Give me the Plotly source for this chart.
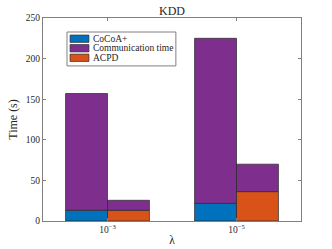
import plotly.graph_objects as go

categories = ["10<sup>−3</sup>", "10<sup>−5</sup>"]
cocoa_compute = [13.2, 21.8]
cocoa_comm = [143.8, 203.2]
acpd_compute = [13.2, 36.2]
acpd_comm = [12.3, 33.8]
legend_names = ["CoCoA+", "Communication time", "ACPD"]

BLUE = "#0072BD"
PURPLE = "#7E2F8E"
ORANGE = "#D95319"
EDGE = dict(color="#262626", width=0.7)
FONT = "Liberation Serif, DejaVu Serif, serif"
TXT = "#262626"

fig = go.Figure()
fig.add_trace(go.Bar(x=categories, y=cocoa_compute, name=legend_names[0], offsetgroup="a",
                     marker=dict(color=BLUE, line=EDGE)))
fig.add_trace(go.Bar(x=categories, y=cocoa_comm, base=cocoa_compute, name=legend_names[1],
                     offsetgroup="a", marker=dict(color=PURPLE, line=EDGE)))
fig.add_trace(go.Bar(x=categories, y=acpd_compute, name=legend_names[2], offsetgroup="b",
                     marker=dict(color=ORANGE, line=EDGE)))
fig.add_trace(go.Bar(x=categories, y=acpd_comm, base=acpd_compute, name=legend_names[1],
                     offsetgroup="b", marker=dict(color=PURPLE, line=EDGE)))

axis_common = dict(showline=True, linecolor="#808080", linewidth=1, mirror="ticks",
                   ticks="inside", ticklen=3, tickcolor="#808080", showgrid=False,
                   zeroline=False, automargin=False,
                   tickfont=dict(family=FONT, size=9.5, color=TXT))

# compact MATLAB-style legend drawn in paper coordinates
shapes = [dict(type="rect", xref="paper", yref="paper", x0=0.093, x1=0.515, y0=0.764, y1=0.931,
               line=dict(color="#808080", width=1), fillcolor="white", layer="above")]
annotations = []
legend_colors = [BLUE, PURPLE, ORANGE]
row_y = [0.898, 0.851, 0.804]
for name, col, yc in zip(legend_names, legend_colors, row_y):
    shapes.append(dict(type="rect", xref="paper", yref="paper", x0=0.105, x1=0.178,
                       y0=yc - 0.018, y1=yc + 0.018, fillcolor=col,
                       line=dict(color="#262626", width=0.7), layer="above"))
    annotations.append(dict(text=name, xref="paper", yref="paper", x=0.186, y=yc,
                            xanchor="left", yanchor="middle", showarrow=False,
                            font=dict(family=FONT, size=9.5, color=TXT)))

fig.update_layout(
    width=332, height=249,
    margin=dict(l=43, r=31, t=18, b=28, autoexpand=False),
    paper_bgcolor="white", plot_bgcolor="white",
    barmode="group", bargap=0.35, bargroupgap=0,
    title=dict(text="KDD", x=0.518, xanchor="center", y=0.955, yanchor="middle",
               font=dict(family=FONT, size=12, color=TXT), automargin=False),
    font=dict(family=FONT, color=TXT),
    showlegend=False,
    shapes=shapes, annotations=annotations,
)
fig.update_xaxes(**axis_common, title=dict(text="λ", standoff=1,
                 font=dict(family=FONT, size=11.5, color=TXT)))
fig.update_yaxes(**axis_common, range=[0, 250], tickvals=[0, 50, 100, 150, 200, 250],
                 title=dict(text="Time (s)", standoff=5,
                            font=dict(family=FONT, size=12, color=TXT)))

fig.write_html("out.html", config={"displayModeBar": False},
               post_script="document.body.style.margin='0';document.body.style.overflow='hidden';")
